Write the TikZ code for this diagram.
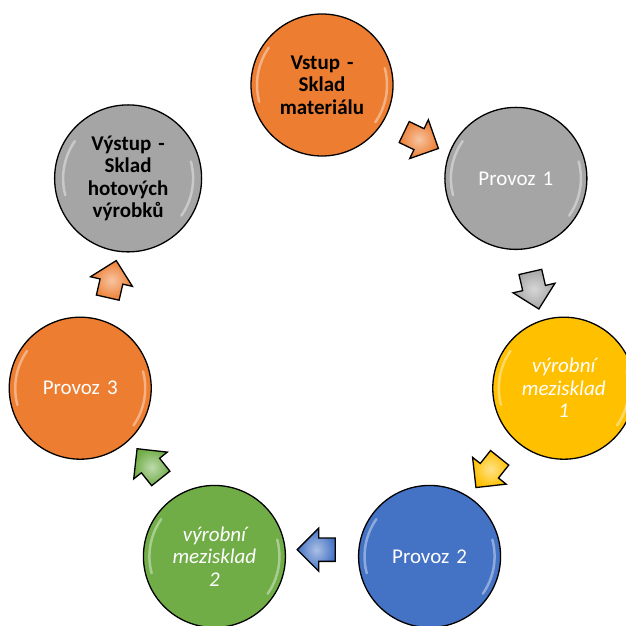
\documentclass[tikz,border=0pt]{standalone}
\usepackage{fontspec}
\setmainfont{Carlito}
\usetikzlibrary{shapes,arrows,positioning,calc}
\definecolor{flowor}{RGB}{237,125,49}
\definecolor{flowgray}{RGB}{165,165,165}
\definecolor{flowyel}{RGB}{255,192,0}
\definecolor{flowblue}{RGB}{68,114,196}
\definecolor{flowgreen}{RGB}{112,173,71}

\begin{document}
\begin{tikzpicture}[x=1pt, y=1pt,
    gloss/.style={path picture={
        \draw[white, opacity=0.4, line width=2.5pt, line cap=round] ([shift={(145:65pt)}]path picture bounding box.center) arc[start angle=145, end angle=195, radius=65pt];
        \draw[white, opacity=0.4, line width=2.5pt, line cap=round] ([shift={(-35:65pt)}]path picture bounding box.center) arc[start angle=-35, end angle=15, radius=65pt];
    }},
    stage/.style={circle, draw=black, line width=1.3pt, minimum size=142pt, inner sep=0pt, text width=120pt, align=center, text=white, font=\fontsize{21}{22.5}\selectfont, gloss},
    store/.style={stage, text=black, font=\fontsize{21}{22.5}\selectfont\bfseries},
    buffer/.style={stage, font=\fontsize{21}{22.5}\selectfont\itshape},
    flow/.style={single arrow, draw=black, line width=1.3pt, minimum height=38pt, minimum width=43pt, single arrow head extend=9pt, inner xsep=0pt, inner ysep=10pt}
]
\useasboundingbox (0,0) rectangle (626,625);

% Ring of stages
\coordinate (hub) at (322,292);
\begin{scope}[shift={(hub)}]
\node[store, fill=flowor] (vstup) at (90:248) {Vstup -\\Sklad\\materiálu};
\node[stage, fill=flowgray] (provoz1) at (38.57:248) {Provoz 1};
\node[buffer, fill=flowyel] (sklad1) at (-12.86:248) {výrobní\\mezisklad\\1};
\node[stage, fill=flowblue] (provoz2) at (-64.29:248) {Provoz 2};
\node[buffer, fill=flowgreen] (sklad2) at (-115.71:248) {výrobní\\mezisklad\\2};
\node[stage, fill=flowor] (provoz3) at (-167.14:248) {Provoz 3};
\node[store, fill=flowgray] (vystup) at (141.43:248) {Výstup -\\Sklad\\hotových\\výrobků};
\end{scope}

% Block arrows between stages
\foreach \from/\to/\col/\rot [count=\i] in {vstup/provoz1/flowor/-25.7, provoz1/sklad1/flowgray/-77.1, sklad1/provoz2/flowyel/-128.6, provoz2/sklad2/flowblue/180, sklad2/provoz3/flowgreen/128.6, provoz3/vystup/flowor/77.1} {
    \node[flow, shade, inner color=white!55!\col, outer color=\col, rotate=\rot] (arrow\i) at ($(\from)!0.5!(\to)!0.03!(hub)$) {};
}

\end{tikzpicture}
\end{document}
